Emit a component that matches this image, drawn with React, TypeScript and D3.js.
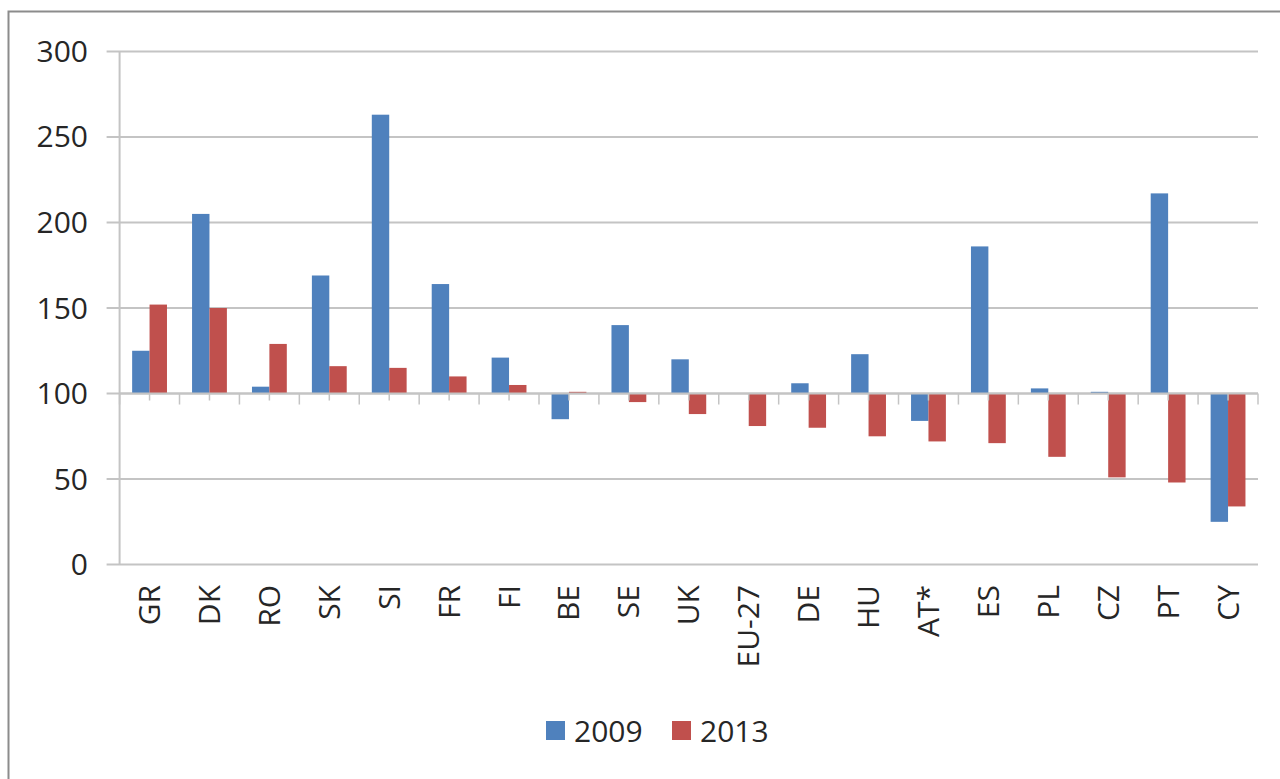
import React, { useRef, useEffect } from 'react';
import * as d3 from 'd3';

const categories = ['GR', 'DK', 'RO', 'SK', 'SI', 'FR', 'FI', 'BE', 'SE', 'UK', 'EU-27', 'DE', 'HU', 'AT*', 'ES', 'PL', 'CZ', 'PT', 'CY'];
const values2009 = [125, 205, 104, 169, 263, 164, 121, 85, 140, 120, 100, 106, 123, 84, 186, 103, 101, 217, 25];
const values2013 = [152, 150, 129, 116, 115, 110, 105, 101, 95, 88, 81, 80, 75, 72, 71, 63, 51, 48, 34];
const seriesNames = ['2009', '2013'];
const yTicks = [0, 50, 100, 150, 200, 250, 300];

const colors = ['#4F81BD', '#C0504D'];
const font = '"Open Sans", "Liberation Sans", sans-serif';

const App = () => {
    const svgRef = useRef<SVGSVGElement>(null);

    useEffect(() => {
        const svg = d3.select(svgRef.current);
        svg.selectAll('*').remove();

        const left = 119.6, right = 1258, top = 51.4, bottom = 564.6;
        const baseline = 100;

        // outer frame (only left/top edges fall inside the picture)
        svg.append('rect')
            .attr('x', 8.5).attr('y', 11.5)
            .attr('width', 1400).attr('height', 900)
            .attr('fill', 'none')
            .attr('stroke', '#8c8c8c')
            .attr('stroke-width', 2);

        const x = d3.scaleBand().domain(categories).range([left, right]).paddingInner(0).paddingOuter(0);
        const inner = d3.scaleBand().domain(seriesNames).range([0, x.bandwidth()]).paddingInner(0).paddingOuter(0.72);
        const y = d3.scaleLinear().domain([0, 300]).range([bottom, top]);

        // gridlines and y labels
        svg.append('g').selectAll('line')
            .data(yTicks)
            .join('line')
            .attr('x1', left - 13).attr('x2', right)
            .attr('y1', d => y(d)).attr('y2', d => y(d))
            .attr('stroke', '#c4c4c4')
            .attr('stroke-width', 2);

        svg.append('g').selectAll('text')
            .data(yTicks)
            .join('text')
            .attr('x', 88)
            .attr('y', d => y(d))
            .attr('dy', '0.35em')
            .attr('text-anchor', 'end')
            .attr('font-family', font)
            .attr('font-size', 30)
            .attr('fill', '#262626')
            .text(d => d);

        // y axis line
        svg.append('line')
            .attr('x1', left).attr('x2', left)
            .attr('y1', top).attr('y2', bottom)
            .attr('stroke', '#c4c4c4')
            .attr('stroke-width', 2);

        // bars, drawn from the 100 baseline
        const data = categories.map((c, i) => ({ c, vals: [values2009[i], values2013[i]] }));
        const groups = svg.append('g').selectAll('g')
            .data(data)
            .join('g')
            .attr('transform', d => `translate(${x(d.c)},0)`);

        groups.selectAll('rect')
            .data(d => d.vals.map((v, k) => ({ v, k })))
            .join('rect')
            .attr('x', d => inner(seriesNames[d.k])!)
            .attr('width', inner.bandwidth())
            .attr('y', d => y(Math.max(d.v, baseline)))
            .attr('height', d => Math.abs(y(d.v) - y(baseline)))
            .attr('fill', d => colors[d.k]);

        // category axis at 100 with tick marks
        const yb = y(baseline);
        svg.append('line')
            .attr('x1', left).attr('x2', right)
            .attr('y1', yb).attr('y2', yb)
            .attr('stroke', '#c4c4c4')
            .attr('stroke-width', 2);

        const boundaries = categories.map(c => x(c)!).concat([right]);
        svg.append('g').selectAll('line')
            .data(boundaries)
            .join('line')
            .attr('x1', d => d).attr('x2', d => d)
            .attr('y1', yb).attr('y2', yb + 11)
            .attr('stroke', '#c4c4c4')
            .attr('stroke-width', 1.5);

        svg.append('g').selectAll('line')
            .data(categories)
            .join('line')
            .attr('x1', d => x(d)! + x.bandwidth() / 2).attr('x2', d => x(d)! + x.bandwidth() / 2)
            .attr('y1', yb).attr('y2', yb + 7)
            .attr('stroke', '#c4c4c4')
            .attr('stroke-width', 1.5);

        // rotated category labels
        svg.append('g').selectAll('text')
            .data(categories)
            .join('text')
            .attr('transform', d => `translate(${x(d)! + x.bandwidth() / 2},585) rotate(-90)`)
            .attr('dy', '0.35em')
            .attr('text-anchor', 'end')
            .attr('font-family', font)
            .attr('font-size', 30)
            .attr('fill', '#262626')
            .text(d => d);

        // legend
        const legend = svg.append('g').attr('transform', 'translate(546,731)');
        const legendX = [0, 126];
        seriesNames.forEach((name, i) => {
            legend.append('rect')
                .attr('x', legendX[i]).attr('y', -10)
                .attr('width', 19).attr('height', 19)
                .attr('fill', colors[i]);
            legend.append('text')
                .attr('x', legendX[i] + 28).attr('y', 0)
                .attr('dy', '0.35em')
                .attr('font-family', font)
                .attr('font-size', 30)
                .attr('fill', '#262626')
                .text(name);
        });
    }, []);

    return <svg ref={svgRef} width={1280} height={779} style={{ position: 'absolute', left: 0, top: 0, background: '#fff' }}></svg>;
};

export default App;
